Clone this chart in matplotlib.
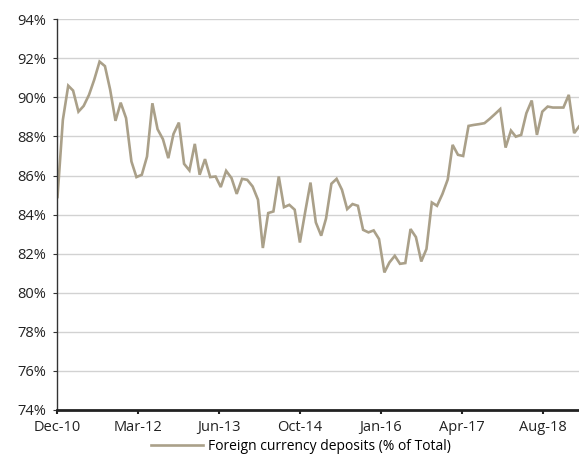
"""
Foreign currency deposits as a share of total deposits, monthly.
"""

import matplotlib

matplotlib.use("Agg")

import matplotlib.dates as mdates
import matplotlib.pyplot as plt
import numpy as np
import pandas as pd
from matplotlib.ticker import FuncFormatter

# monthly observations, Dec-2010 .. Mar-2019
START = "2010-12-01"
deposits_pct = [
    84.9, 88.85, 90.6, 90.35, 89.27, 89.56, 90.13, 90.9, 91.83, 91.6,
    90.4, 88.8, 89.73, 88.94, 86.72, 85.92, 86.04, 86.97, 89.7, 88.37,
    87.86, 86.89, 88.13, 88.71, 86.6, 86.26, 87.62, 86.04, 86.84, 85.92,
    85.95, 85.41, 86.24, 85.87, 85.06, 85.83, 85.78, 85.44, 84.76, 82.29,
    84.08, 84.16, 85.95, 84.38, 84.5, 84.25, 82.57, 84.16, 85.64, 83.6,
    82.92, 83.8, 85.58, 85.83, 85.27, 84.28, 84.54, 84.45, 83.22, 83.09,
    83.19, 82.75, 81.04, 81.55, 81.89, 81.48, 81.52, 83.26, 82.85, 81.6,
    82.24, 84.62, 84.45, 85.05, 85.8, 87.57, 87.06, 87.0, 88.54, 88.59,
    88.63, 88.68, 88.9, 89.15, 89.4, 87.43, 88.3, 87.99, 88.08, 89.19,
    89.84, 88.08, 89.27, 89.53, 89.48, 89.48, 89.48, 90.13, 88.17, 88.51,
]
series_label = "Foreign currency deposits (% of Total)"
y_ticks = list(range(74, 95, 2))
# axis labels fall every 467 days from the first observation
tick_step_days = 467
tick_count = 7

LINE_COLOR = "#aaa089"
GRID_COLOR = "#d2d2d2"

plt.rcParams["font.family"] = ["Open Sans", "DejaVu Sans"]

dates = pd.date_range(START, periods=len(deposits_pct), freq="MS")
tick_dates = [dates[0] + pd.Timedelta(days=tick_step_days * i) for i in range(tick_count)]

fig = plt.figure(figsize=(5.79, 4.55), dpi=100)
ax = fig.add_axes([0.0993, 0.099, 0.9007, 0.8587])

ax.plot(dates, deposits_pct, color=LINE_COLOR, lw=1.9, label=series_label,
        solid_joinstyle="miter")

ax.set_ylim(74, 94)
ax.set_yticks(y_ticks)
ax.yaxis.set_major_formatter(FuncFormatter(lambda v, _: f"{v:.0f}%"))
ax.set_xlim(dates[0], dates[-1])
ax.set_xticks(tick_dates)
ax.xaxis.set_major_formatter(mdates.DateFormatter("%b-%y"))

ax.grid(axis="y", color=GRID_COLOR, lw=1.0)
ax.set_axisbelow(True)
for side in ("top", "right"):
    ax.spines[side].set_visible(False)
ax.spines["left"].set_color("#333333")
ax.spines["left"].set_linewidth(1.0)
ax.spines["bottom"].set_color("#222222")
ax.spines["bottom"].set_linewidth(2.0)

ax.tick_params(axis="y", length=3, width=0.8, color="#333333", labelsize=10.5,
               labelcolor="#222222", pad=5)
ax.tick_params(axis="x", length=3, width=1.5, color="#222222", labelsize=10.5,
               labelcolor="#222222", pad=4)

fig.legend(loc="lower center", bbox_to_anchor=(0.52, -0.025), frameon=False,
           fontsize=10, handlelength=3.7, handletextpad=0.4)

fig.savefig("out.png", dpi=100)
